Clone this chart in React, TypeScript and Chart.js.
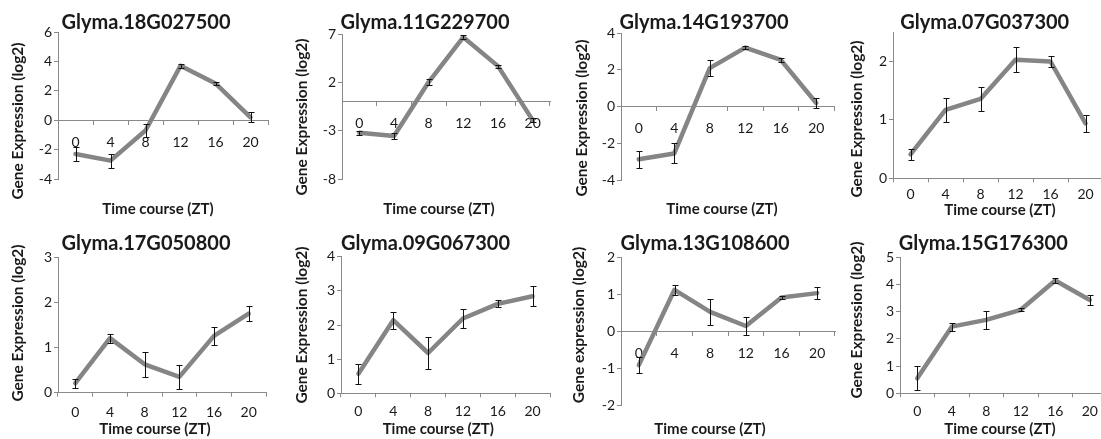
import React, { useEffect, useRef } from 'react';
import { Chart, registerables } from 'chart.js';

Chart.register(...registerables);
Chart.defaults.font.family = 'Lato, "Open Sans", sans-serif';

// ---------- data ----------
const timePoints = ['0', '4', '8', '12', '16', '20'];
const xAxisTitle = 'Time course (ZT)';

const geneNames = [
  'Glyma.18G027500',
  'Glyma.11G229700',
  'Glyma.14G193700',
  'Glyma.07G037300',
  'Glyma.17G050800',
  'Glyma.09G067300',
  'Glyma.13G108600',
  'Glyma.15G176300',
];

const yAxisTitles = [
  'Gene Expression (log2)',
  'Gene Expression (log2)',
  'Gene Expression (log2)',
  'Gene Expression (log2)',
  'Gene Expression (log2)',
  'Gene Expression (log2)',
  'Gene expression (log2)',
  'Gene Expression (log2)',
];

const mean18G027500 = [-2.3, -2.75, -0.7, 3.7, 2.5, 0.2];
const err18G027500 = [0.45, 0.48, 0.45, 0.15, 0.1, 0.35];
const mean11G229700 = [-3.2, -3.55, 2.05, 6.7, 3.7, -1.9];
const err11G229700 = [0.2, 0.35, 0.35, 0.2, 0.15, 0.2];
const mean14G193700 = [-2.87, -2.55, 2.1, 3.22, 2.55, 0.2];
const err14G193700 = [0.45, 0.55, 0.45, 0.1, 0.1, 0.25];
const mean07G037300 = [0.41, 1.17, 1.36, 2.03, 2.0, 0.94];
const err07G037300 = [0.09, 0.2, 0.21, 0.21, 0.1, 0.14];
const mean17G050800 = [0.21, 1.21, 0.63, 0.35, 1.26, 1.75];
const err17G050800 = [0.1, 0.1, 0.28, 0.26, 0.2, 0.16];
const mean09G067300 = [0.57, 2.14, 1.18, 2.19, 2.62, 2.84];
const err09G067300 = [0.3, 0.25, 0.47, 0.27, 0.1, 0.29];
const mean13G108600 = [-0.92, 1.12, 0.52, 0.14, 0.91, 1.03];
const err13G108600 = [0.22, 0.13, 0.36, 0.24, 0.04, 0.16];
const mean15G176300 = [0.55, 2.45, 2.7, 3.07, 4.15, 3.43];
const err15G176300 = [0.44, 0.15, 0.32, 0.05, 0.08, 0.2];

const yMins = [-4, -8, -4, 0, 0, 0, -2, 0];
const yMaxs = [6, 7, 4, 2.5, 3, 4, 2, 5];
const ySteps = [2, 5, 2, 1, 1, 1, 1, 1];

const means = [
  mean18G027500, mean11G229700, mean14G193700, mean07G037300,
  mean17G050800, mean09G067300, mean13G108600, mean15G176300,
];
const errs = [
  err18G027500, err11G229700, err14G193700, err07G037300,
  err17G050800, err09G067300, err13G108600, err15G176300,
];

// ---------- layout (panel-local pixels) ----------
type Lay = {
  px: number; py: number; L: number; R: number; T: number; B: number;
  cross: boolean; lp: number;
  title: [number, number]; yt: [number, number]; xt: [number, number];
};
const LAYOUTS: Lay[] = [
  { px: 0, py: 0, L: 58, R: 268, T: 32, B: 179, cross: true, lp: 10, title: [146, 22.5], yt: [18, 121], xt: [158, 209] },
  { px: 275, py: 0, L: 67, R: 275, T: 34.3, B: 179, cross: true, lp: 9, title: [150, 22.7], yt: [27, 117], xt: [164, 209] },
  { px: 550, py: 0, L: 71, R: 284, T: 33.3, B: 180, cross: true, lp: 9, title: [154, 22.7], yt: [31.7, 118], xt: [172, 209] },
  { px: 825, py: 0, L: 68, R: 278, T: 32.3, B: 178.3, cross: false, lp: 4, title: [159.7, 22.7], yt: [31.7, 119], xt: [175, 210] },
  { px: 0, py: 220, L: 58, R: 266, T: 37.3, B: 172.7, cross: false, lp: 7, title: [146, 23.3], yt: [18.3, 103], xt: [155, 209.3] },
  { px: 275, py: 220, L: 66, R: 275, T: 36.7, B: 173.3, cross: false, lp: 6, title: [150.5, 23.3], yt: [26.7, 105], xt: [163.3, 209.3] },
  { px: 550, py: 220, L: 71, R: 285, T: 37.3, B: 185, cross: true, lp: 9.7, title: [155, 23.3], yt: [29.3, 105], xt: [160, 209.3] },
  { px: 825, py: 220, L: 75, R: 282, T: 37.3, B: 173.3, cross: false, lp: 6, title: [158.3, 23.3], yt: [31.7, 100], xt: [175, 209.3] },
];

const CW = 300;
const CH = 220;
const XH = 30; // reserved height of a bottom x axis
const AXIS = '#898989';
const LINE = '#858585';
const TEXT = '#1a1a1a';

const errorBarPlugin = {
  id: 'errorBars',
  afterDatasetsDraw(chart: any, _args: any, opts: any) {
    const errors: number[] = opts.errors || [];
    const xs = chart.scales.x;
    const ys = chart.scales.y;
    const ctx = chart.ctx;
    const data: number[] = chart.data.datasets[0].data;
    ctx.save();
    ctx.strokeStyle = '#111';
    ctx.lineWidth = 1;
    data.forEach((v, i) => {
      const e = errors[i] || 0;
      const x = Math.round(xs.getPixelForValue(i)) + 0.5;
      const y1 = Math.round(ys.getPixelForValue(v + e)) + 0.5;
      const y2 = Math.round(ys.getPixelForValue(v - e)) + 0.5;
      ctx.beginPath();
      ctx.moveTo(x, y1); ctx.lineTo(x, y2);
      ctx.moveTo(x - 3, y1); ctx.lineTo(x + 3, y1);
      ctx.moveTo(x - 3, y2); ctx.lineTo(x + 3, y2);
      ctx.stroke();
    });
    ctx.restore();
  },
};

const panelTextPlugin = {
  id: 'panelText',
  afterDraw(chart: any, _args: any, opts: any) {
    const ctx = chart.ctx;
    ctx.save();
    ctx.fillStyle = TEXT;
    ctx.textAlign = 'center';
    ctx.textBaseline = 'middle';
    ctx.font = 'bold 20px Lato';
    ctx.fillText(opts.title, opts.titlePos[0], opts.titlePos[1]);
    ctx.font = 'bold 15px Lato';
    ctx.fillText(opts.xTitle, opts.xPos[0], opts.xPos[1]);
    ctx.translate(opts.yPos[0], opts.yPos[1]);
    ctx.rotate(-Math.PI / 2);
    ctx.font = 'bold 15.5px Lato';
    ctx.fillText(opts.yTitle, 0, 0);
    ctx.restore();
  },
};

function Panel({ idx }: { idx: number }) {
  const ref = useRef<HTMLCanvasElement>(null);
  useEffect(() => {
    const lay = LAYOUTS[idx];
    const xh = lay.cross ? 0 : XH;
    const chart = new Chart(ref.current as HTMLCanvasElement, {
      type: 'line',
      data: {
        labels: timePoints,
        datasets: [
          {
            data: means[idx],
            borderColor: LINE,
            borderWidth: 4.5,
            pointRadius: 0,
            tension: 0,
            fill: false,
            borderJoinStyle: 'round',
            borderCapStyle: 'round',
          },
        ],
      },
      options: {
        animation: false,
        responsive: false,
        devicePixelRatio: 1,
        layout: {
          padding: { left: 0, top: lay.T, right: CW - lay.R, bottom: CH - lay.B - xh },
        },
        plugins: {
          legend: { display: false },
          tooltip: { enabled: false },
          title: { display: false },
          errorBars: { errors: errs[idx] },
          panelText: {
            title: geneNames[idx],
            titlePos: lay.title,
            yTitle: yAxisTitles[idx],
            yPos: lay.yt,
            xTitle: xAxisTitle,
            xPos: lay.xt,
          },
        } as any,
        scales: {
          x: {
            type: 'category',
            position: lay.cross ? ({ y: 0 } as any) : 'bottom',
            offset: true,
            grid: {
              offset: true,
              drawOnChartArea: false,
              drawTicks: true,
              tickLength: 4,
              color: AXIS,
            },
            border: { color: AXIS, width: 1 },
            ticks: {
              color: TEXT,
              font: { size: 14 },
              padding: lay.lp,
              maxRotation: 0,
              autoSkip: false,
            },
            afterFit: (s: any) => { s.height = xh; },
          },
          y: {
            type: 'linear',
            min: yMins[idx],
            max: yMaxs[idx],
            grid: {
              drawOnChartArea: false,
              drawTicks: true,
              tickLength: 4,
              color: AXIS,
            },
            border: { color: AXIS, width: 1 },
            ticks: {
              stepSize: ySteps[idx],
              includeBounds: false,
              color: TEXT,
              font: { size: 14 },
              padding: 2,
            },
            afterFit: (s: any) => { s.width = lay.L; },
          },
        },
      },
      plugins: [errorBarPlugin, panelTextPlugin],
    });
    return () => chart.destroy();
  }, [idx]);
  const lay = LAYOUTS[idx];
  return (
    <canvas
      ref={ref}
      width={CW}
      height={CH}
      style={{ position: 'absolute', left: lay.px, top: lay.py, width: CW, height: CH }}
    />
  );
}

export default function App() {
  return (
    <div
      style={{
        position: 'absolute',
        left: 0,
        top: 0,
        width: 1101,
        height: 439,
        overflow: 'hidden',
        background: '#fff',
      }}
    >
      {geneNames.map((_, i) => (
        <Panel key={i} idx={i} />
      ))}
    </div>
  );
}
